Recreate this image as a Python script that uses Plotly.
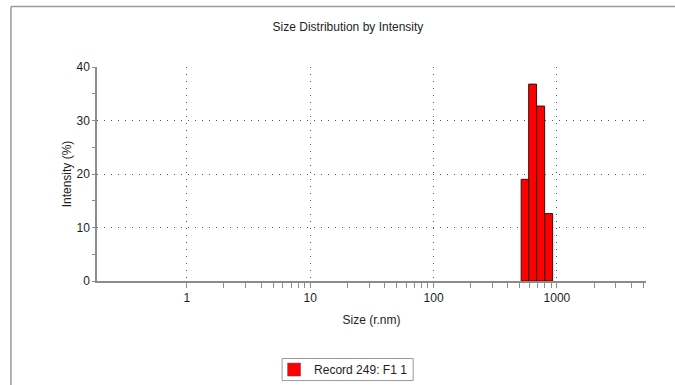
import plotly.graph_objects as go

# ---- data ----
bin_edges_nm = [513, 590, 684, 795, 923]          # bar edges, Size (r.nm)
intensity_pct = [19.0, 36.8, 32.7, 12.6]          # Intensity (%)
series_name = "Record 249: F1 1"
x_major_ticks = [1, 10, 100, 1000]
x_major_labels = ["1", "10", "100", "1000"]
x_minor_ticks = [2, 3, 4, 5, 6, 7, 8, 9,
                 20, 30, 40, 50, 60, 70, 80, 90,
                 200, 300, 400, 500, 600, 700, 800, 900,
                 2000, 3000, 4000, 5000]
y_major_ticks = [0, 10, 20, 30, 40]

# ---- build histogram polygons from the bins ----
xs, ys = [], []
for i, h in enumerate(intensity_pct):
    l, r = bin_edges_nm[i], bin_edges_nm[i + 1]
    xs += [l, l, r, r, l, None]
    ys += [0, h, h, 0, 0, None]

W, H = 675, 385
ML, MR, MT, MB = 97, 29.3, 67.3, 104.3
FONT = "Liberation Sans, Arial, sans-serif"
AX = "#8c8c8c"
TXT = "#1e1e1e"

fig = go.Figure()
fig.add_trace(go.Scatter(
    x=xs, y=ys, mode="lines", fill="toself",
    fillcolor="#ff0000", line=dict(color="#3a1010", width=1),
    showlegend=False, hoverinfo="skip"))
fig.add_trace(go.Scatter(
    x=[None], y=[None], mode="markers", name=series_name,
    marker=dict(symbol="square", size=13, color="#ff0000",
                line=dict(color="#555555", width=0.5))))

pw = W - ML - MR
ph = H - MT - MB
def px2x(p):
    return (p - ML) / pw
def py2y(p):
    return (H - MB - p) / ph

fig.update_layout(
    width=W, height=H,
    margin=dict(l=ML, r=MR, t=MT, b=MB, pad=0, autoexpand=False),
    paper_bgcolor="white", plot_bgcolor="white",
    font=dict(family=FONT, size=12, color=TXT),
    title=dict(text="Size Distribution by Intensity", x=0.5155, xanchor="center",
               y=1 - 27 / H, yanchor="middle", yref="container",
               font=dict(family=FONT, size=12, color=TXT)),
    xaxis=dict(
        type="log", range=[-0.7275, 3.7218],
        tickmode="array", tickvals=x_major_ticks, ticktext=x_major_labels,
        ticks="outside", ticklen=5, tickwidth=1, tickcolor=AX,
        showline=True, linecolor=AX, linewidth=1.5,
        showgrid=True, gridcolor="#555555", gridwidth=1, griddash="1px,6px",
        zeroline=False, automargin=False,
        minor=dict(tickmode="array", tickvals=x_minor_ticks, ticks="outside",
                   ticklen=5, tickwidth=1, tickcolor=AX, showgrid=False),
        title=dict(text="Size (r.nm)", standoff=11,
                   font=dict(family=FONT, size=12, color=TXT)),
        tickfont=dict(family=FONT, size=12, color=TXT),
    ),
    yaxis=dict(
        range=[0, 40], tickmode="array", tickvals=y_major_ticks,
        ticks="outside", ticklen=3, tickwidth=1, tickcolor=AX,
        showline=True, linecolor=AX, linewidth=1.5,
        showgrid=True, gridcolor="#555555", gridwidth=1, griddash="1px,6px",
        zeroline=False, automargin=False,
        minor=dict(dtick=5, ticks="outside", ticklen=3, tickwidth=1,
                   tickcolor=AX, showgrid=False),
        title=dict(text="Intensity (%)", standoff=2,
                   font=dict(family=FONT, size=12, color=TXT)),
        tickfont=dict(family=FONT, size=12, color=TXT),
    ),
    legend=dict(
        x=px2x(274), y=py2y(369), xanchor="left", yanchor="middle",
        borderwidth=0, bgcolor="rgba(0,0,0,0)",
        font=dict(family=FONT, size=12, color=TXT),
        itemwidth=30, tracegroupgap=0,
    ),
    showlegend=True,
    shapes=[
        # page frame
        dict(type="line", xref="paper", yref="paper",
             x0=px2x(11), x1=px2x(676), y0=py2y(7), y1=py2y(7),
             line=dict(color="#9a9a9a", width=1.5)),
        dict(type="line", xref="paper", yref="paper",
             x0=px2x(11), x1=px2x(11), y0=py2y(7), y1=py2y(386),
             line=dict(color="#9a9a9a", width=1.5)),
        # legend frame
        dict(type="rect", xref="paper", yref="paper",
             x0=px2x(282), x1=px2x(413), y0=py2y(358), y1=py2y(380),
             line=dict(color="#999999", width=1), fillcolor="rgba(0,0,0,0)"),
    ],
)

fig.write_html(
    "out.html",
    config={"displayModeBar": False},
    post_script="document.body.style.margin='0';document.body.style.overflow='hidden';",
)
